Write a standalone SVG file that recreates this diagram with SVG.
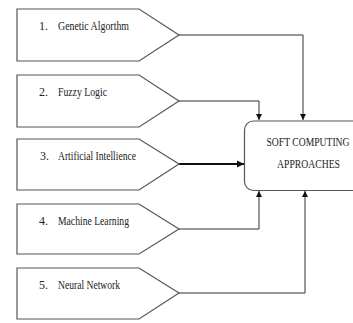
<svg xmlns="http://www.w3.org/2000/svg" width="353" height="323" viewBox="0 0 353 323">
<style>
.node{fill:#fff;stroke:#555;stroke-width:1.2}
.lbl{font-family:"Liberation Serif","Times New Roman",serif;font-size:12px;fill:#222}
.ttl{font-family:"Liberation Serif","Times New Roman",serif;font-size:12.5px;fill:#222;text-anchor:middle}
.con{fill:none;stroke:#333;stroke-width:1}
.thick{fill:none;stroke:#111;stroke-width:2}
</style>
<defs>
<marker id="arr" markerWidth="6" markerHeight="6" refX="6" refY="3" orient="auto" markerUnits="userSpaceOnUse">
<path d="M0,0 L6,3 L0,6 Z" fill="#111"/>
</marker>
<marker id="arr2" markerWidth="8" markerHeight="8" refX="7" refY="4" orient="auto" markerUnits="userSpaceOnUse">
<path d="M0,0.5 L7,4 L0,7.5 Z" fill="#111"/>
</marker>
</defs>
<rect width="353" height="323" fill="#fff"/>
<g id="connectors">
<path class="con" d="M179,35 H303 V120" marker-end="url(#arr)"/>
<path class="con" d="M179,101 H259 V120" marker-end="url(#arr)"/>
<path class="thick" d="M179,164 H244" marker-end="url(#arr2)"/>
<path class="con" d="M179,229 H259 V191" marker-end="url(#arr)"/>
<path class="con" d="M179,293 H305 V191" marker-end="url(#arr)"/>
</g>
<g id="n1">
<path class="node" d="M17,9 H139 L179,35 L139,61 H17 Z"/>
<text class="lbl" x="39" y="30">1.</text>
<text class="lbl" x="58" y="30" textLength="71" lengthAdjust="spacingAndGlyphs">Genetic Algorthm</text>
</g>
<g id="n2">
<path class="node" d="M17,75 H139 L179,101 L139,127 H17 Z"/>
<text class="lbl" x="39" y="96">2.</text>
<text class="lbl" x="58" y="96" textLength="49" lengthAdjust="spacingAndGlyphs">Fuzzy Logic</text>
</g>
<g id="n3">
<path class="node" d="M17,139 H139 L179,164 L139,190 H17 Z"/>
<text class="lbl" x="40" y="160">3.</text>
<text class="lbl" x="58" y="160" textLength="78" lengthAdjust="spacingAndGlyphs">Artificial Intellience</text>
</g>
<g id="n4">
<path class="node" d="M17,204 H139 L179,229 L139,254 H17 Z"/>
<text class="lbl" x="39" y="225">4.</text>
<text class="lbl" x="58" y="225" textLength="71" lengthAdjust="spacingAndGlyphs">Machine Learning</text>
</g>
<g id="n5">
<path class="node" d="M17,268 H139 L179,293 L139,319 H17 Z"/>
<text class="lbl" x="39" y="289">5.</text>
<text class="lbl" x="58" y="289" textLength="62" lengthAdjust="spacingAndGlyphs">Neural Network</text>
</g>
<g id="soft">
<rect class="node" x="244.5" y="121" width="125" height="69.5" rx="9" ry="9"/>
<text class="ttl" x="308" y="146" textLength="83" lengthAdjust="spacingAndGlyphs">SOFT COMPUTING</text>
<text class="ttl" x="308.5" y="168" textLength="63" lengthAdjust="spacingAndGlyphs">APPROACHES</text>
</g>
</svg>
